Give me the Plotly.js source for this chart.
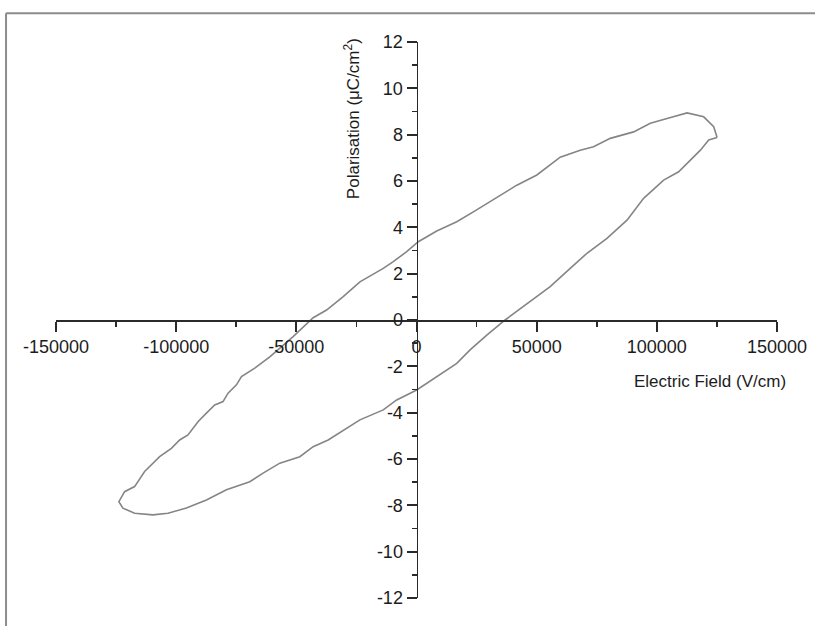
<!DOCTYPE html>
<html>
<head>
<meta charset="utf-8">
<script src="https://cdn.plot.ly/plotly-3.0.1.min.js"></script>
<style>
  html, body { margin: 0; padding: 0; background: #ffffff; }
  #chart { width: 815px; height: 626px; }
</style>
</head>
<body>
<div id="chart"></div>
<script>
// Upper branch: from the positive tip, sweeping field downwards
const upperField = [125083, 123667, 119500, 112583, 104250, 97292, 90333, 80625, 73667, 68125,
  59792, 50083, 41750, 32000, 23667, 16750, 8417, 750, -4083, -9667, -13833, -23542, -30500,
  -37417, -43000, -51333, -61042, -67292, -72833, -74917, -78417, -80500, -83958, -87417,
  -90917, -95083, -98542, -102000, -106875, -113125, -115917, -117292, -121458, -123833];
const upperPol = [7.88, 8.34, 8.77, 8.94, 8.70, 8.49, 8.12, 7.84, 7.48, 7.33,
  7.03, 6.26, 5.82, 5.18, 4.67, 4.24, 3.84, 3.38, 2.95, 2.52, 2.23, 1.65, 1.01,
  0.43, 0.10, -0.72, -1.59, -2.08, -2.44, -2.80, -3.16, -3.52, -3.67, -4.02,
  -4.39, -4.96, -5.18, -5.54, -5.90, -6.54, -6.98, -7.19, -7.41, -7.84];

// Lower branch: from the negative tip, sweeping field upwards
const lowerField = [-122167, -117292, -109667, -103417, -95750, -87417, -79083, -69375, -63833,
  -56875, -48542, -43000, -36750, -23542, -13833, -8250, 83, 8417, 16750, 22292, 29250,
  36875, 47292, 55625, 63958, 70917, 79250, 87583, 94500, 102833, 109083, 112583, 118125,
  121583, 125083];
const lowerPol = [-8.12, -8.34, -8.41, -8.34, -8.12, -7.77, -7.33, -6.98, -6.61,
  -6.18, -5.90, -5.47, -5.18, -4.31, -3.88, -3.45, -3.02, -2.45, -1.87, -1.29, -0.65,
  0.00, 0.79, 1.44, 2.23, 2.88, 3.52, 4.31, 5.25, 6.04, 6.40, 6.76, 7.33,
  7.77, 7.88];

const xTickVals = [-150000, -100000, -50000, 0, 50000, 100000, 150000];
const xTickText = ['-150000', '-100000', '-50000', '0', '50000', '100000', '150000'];
const xMinorVals = [-125000, -75000, -25000, 25000, 75000, 125000];
const yTickVals = [-12, -10, -8, -6, -4, -2, 0, 2, 4, 6, 8, 10, 12];
const yTickText = ['-12', '-10', '-8', '-6', '-4', '-2', '0', '2', '4', '6', '8', '10', '12'];
const yMinorVals = [-11, -9, -7, -5, -3, -1, 1, 3, 5, 7, 9, 11];

const xTitle = 'Electric Field (V/cm)';
const yTitle = 'Polarisation (\u03bcC/cm<sup>2</sup>)';

const fontFam = '"Liberation Sans", Arial, sans-serif';
const axisColor = '#2a2a2a';
const textColor = '#1c1c1c';

const trace = {
  x: upperField.concat(lowerField),
  y: upperPol.concat(lowerPol),
  type: 'scatter',
  mode: 'lines',
  line: { color: '#858585', width: 1.6 },
  hoverinfo: 'skip'
};

const axisCommon = {
  showgrid: false,
  zeroline: false,
  showline: true,
  linecolor: axisColor,
  linewidth: 1.8,
  ticks: 'outside',
  ticklen: 10,
  tickwidth: 1.8,
  tickcolor: axisColor,
  tickfont: { family: fontFam, size: 18, color: textColor },
  tickmode: 'array',
  fixedrange: true
};

const layout = {
  width: 815,
  height: 626,
  margin: { l: 56, r: 38, t: 42, b: 28 },
  paper_bgcolor: '#ffffff',
  plot_bgcolor: '#ffffff',
  showlegend: false,
  xaxis: Object.assign({}, axisCommon, {
    range: [-150000, 150000],
    anchor: 'free',
    position: 0.5,
    tickvals: xTickVals,
    ticktext: xTickText,
    minor: { tickmode: 'array', tickvals: xMinorVals, ticks: 'outside', ticklen: 5, tickwidth: 1.8, tickcolor: axisColor, showgrid: false }
  }),
  yaxis: Object.assign({}, axisCommon, {
    range: [-12, 12],
    anchor: 'free',
    position: 0.5,
    tickvals: yTickVals,
    ticktext: yTickText,
    minor: { tickmode: 'array', tickvals: yMinorVals, ticks: 'outside', ticklen: 5, tickwidth: 1.8, tickcolor: axisColor, showgrid: false }
  }),
  annotations: [
    {
      text: xTitle, xref: 'paper', yref: 'paper', x: 0.907, y: 0.390,
      xanchor: 'center', yanchor: 'middle', showarrow: false,
      font: { family: fontFam, size: 17, color: textColor }
    },
    {
      text: yTitle, xref: 'paper', yref: 'paper', x: 0.4105, y: 0.863,
      xanchor: 'center', yanchor: 'middle', showarrow: false, textangle: -90,
      font: { family: fontFam, size: 17, color: textColor }
    }
  ],
  shapes: [
    { type: 'line', xref: 'paper', yref: 'paper', x0: -0.0693, x1: 1.06, y0: 1.0516, y1: 1.0516,
      line: { color: '#8c8c8c', width: 2 } },
    { type: 'line', xref: 'paper', yref: 'paper', x0: -0.0693, x1: -0.0693, y0: 1.0516, y1: -0.06,
      line: { color: '#8c8c8c', width: 2 } }
  ]
};

Plotly.newPlot('chart', [trace], layout, { staticPlot: true, displayModeBar: false });
</script>
</body>
</html>
